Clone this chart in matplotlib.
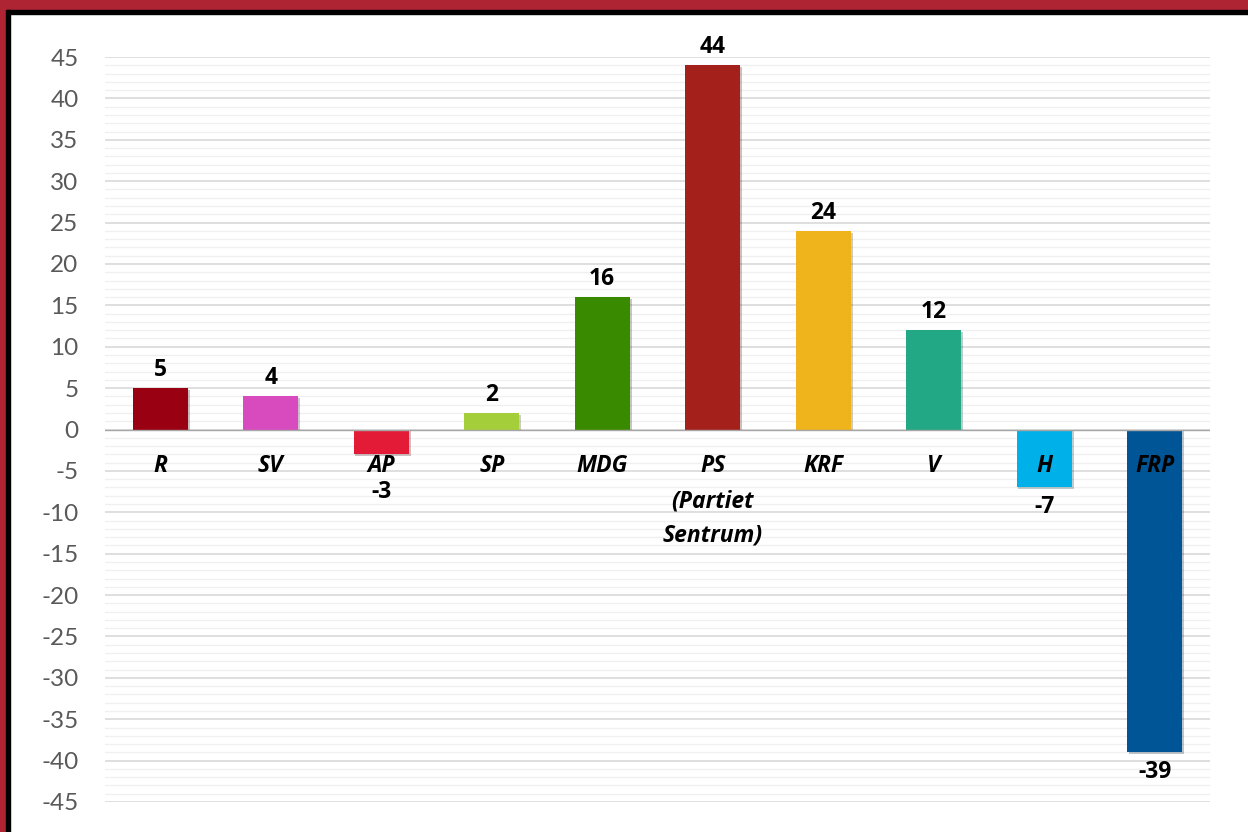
import matplotlib
matplotlib.use("Agg")
import matplotlib.pyplot as plt
from matplotlib.patches import Rectangle
from matplotlib.ticker import MultipleLocator
import matplotlib.patheffects as pe

plt.rcParams['font.family'] = ['Lato', 'DejaVu Sans']
LBL = ['Open Sans', 'DejaVu Sans']

categories = ['R', 'SV', 'AP', 'SP', 'MDG', 'PS\n(Partiet\nSentrum)', 'KRF', 'V', 'H', 'FRP']
values = [5, 4, -3, 2, 16, 44, 24, 12, -7, -39]
colors = ['#990012', '#D84BBF', '#E31B37', '#A4CE3A', '#3A8A00',
          '#A4201A', '#EFB31B', '#22A884', '#00B0E8', '#005596']
yticks = list(range(-45, 50, 5))

W, H = 1248, 832
fig = plt.figure(figsize=(W / 100, H / 100), dpi=100)
ax = fig.add_axes([105 / W, 1 - 802 / H, (1210 - 105) / W, (802 - 57) / H])

x = list(range(len(categories)))
bars = ax.bar(x, values, width=0.5, color=colors, zorder=3)
for b in bars:
    b.set_path_effects([pe.SimplePatchShadow(offset=(1.2, -1.2), alpha=0.25), pe.Normal()])

ax.set_xlim(-0.5, len(categories) - 0.5)
ax.set_ylim(-45, 45)
ax.set_yticks(yticks)
ax.set_yticklabels([str(t) for t in yticks])
ax.yaxis.set_minor_locator(MultipleLocator(1))
ax.set_xticks([])
ax.tick_params(axis='y', which='major', length=0, labelsize=17.5, labelcolor='#595959', pad=19)
ax.tick_params(axis='y', which='minor', length=0)

ax.grid(axis='y', which='major', color='#D9D9D9', linewidth=1.2, zorder=0)
ax.grid(axis='y', which='minor', color='#F0F0F0', linewidth=1.0, zorder=0)
ax.axhline(0, color='#A6A6A6', linewidth=1.0, zorder=4)
for s in ax.spines.values():
    s.set_visible(False)

# category labels
for xi, c in zip(x, categories):
    ax.text(xi, -3.0, c, ha='center', va='top', fontsize=16.5, fontstyle='italic',
            fontweight='bold', color='black', zorder=5, linespacing=1.6, family=LBL)

# value labels
for xi, v in zip(x, values):
    if v >= 0:
        yl = v + 2.2
    elif v > -4.6:
        yl = -7.6
    else:
        yl = v - 2.4
    ax.text(xi, yl, str(v), ha='center', va='center', fontsize=16.5,
            fontweight='bold', color='black', zorder=5, family=LBL)

# frame (top and left)
fig.patches.append(Rectangle((0, 1 - 10 / H), 1, 10 / H, transform=fig.transFigure,
                             color='#AE2433', zorder=10))
fig.patches.append(Rectangle((0, 1 - 14 / H), 1, 4 / H, transform=fig.transFigure,
                             color='black', zorder=10))
fig.patches.append(Rectangle((0, 0), 6 / W, 1, transform=fig.transFigure,
                             color='#AE2433', zorder=10))
fig.patches.append(Rectangle((6 / W, 0), 4 / W, 1 - 10 / H, transform=fig.transFigure,
                             color='black', zorder=10))

fig.savefig('out.png', dpi=100)
